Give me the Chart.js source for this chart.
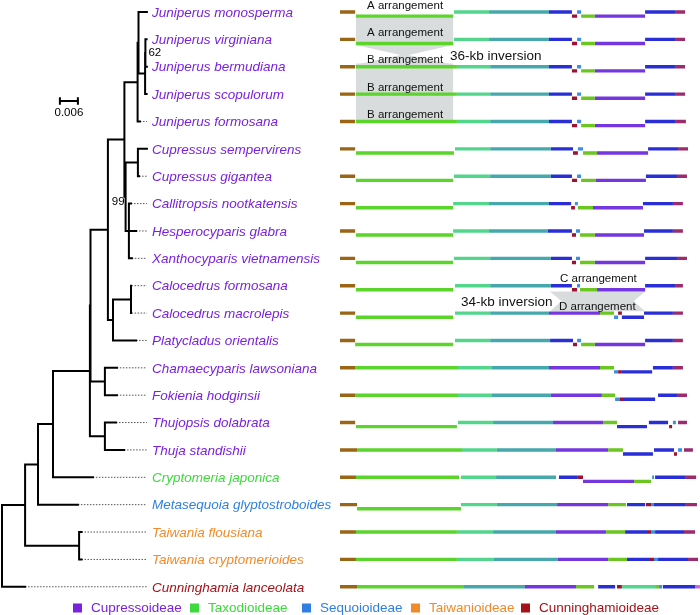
<!DOCTYPE html>
<html>
<head>
<meta charset="utf-8">
<script src="https://cdn.jsdelivr.net/npm/chart.js@4.4.0/dist/chart.umd.min.js"></script>
<style>
  html, body { margin: 0; padding: 0; background: #fff; }
  #wrap { width: 700px; height: 615px; position: relative; }
</style>
</head>
<body>
<div id="wrap"><canvas id="treeChart"></canvas></div>
<script>
// tips, top to bottom
const species = [
  'Juniperus monosperma', 'Juniperus virginiana', 'Juniperus bermudiana', 'Juniperus scopulorum',
  'Juniperus formosana', 'Cupressus sempervirens', 'Cupressus gigantea', 'Callitropsis nootkatensis',
  'Hesperocyparis glabra', 'Xanthocyparis vietnamensis', 'Calocedrus formosana', 'Calocedrus macrolepis',
  'Platycladus orientalis', 'Chamaecyparis lawsoniana', 'Fokienia hodginsii', 'Thujopsis dolabrata',
  'Thuja standishii', 'Cryptomeria japonica', 'Metasequoia glyptostroboides', 'Taiwania flousiana',
  'Taiwania cryptomerioides', 'Cunninghamia lanceolata'
];
const subfamilyOf = [0,0,0,0,0,0,0,0,0,0,0,0,0,0,0,0,0,1,2,3,3,4];
const subfamilies = ['Cupressoideae', 'Taxodioideae', 'Sequoioideae', 'Taiwanioideae', 'Cunninghamioideae'];
const subfamilyColors = ['#7a22dc', '#3fd83f', '#2f7fe2', '#f08a2a', '#a51219'];

// tip branch ends (subst./site)
const tipDepth = [0.0483, 0.0482, 0.0483, 0.0482, 0.0460, 0.0483, 0.0457, 0.0430, 0.0447, 0.0433, 0.0432,
                  0.0432, 0.0447, 0.0383, 0.0383, 0.0380, 0.0407, 0.0303, 0.0253, 0.0265, 0.0265, 0.0077];
// internal nodes: numbers = tips, 'nX' = other nodes
const nodeKids = [
  [1, 2], ['n0', 3], [0, 'n1'], ['n2', 4], [5, 6], [7, 8, 9], ['n4', 'n5'], ['n3', 'n6'],
  [10, 11], ['n8', 12], ['n7', 'n9'], [13, 14], [15, 16], ['n10', 'n11'], ['n13', 'n12'],
  ['n14', 17], ['n15', 18], [19, 20], ['n16', 'n17'], ['n18', 21]
];
const nodeDepth = [0.0478, 0.0477, 0.0455, 0.0452, 0.0453, 0.0423, 0.0412, 0.0408, 0.0430, 0.0370,
                   0.0353, 0.0343, 0.0343, 0.0295, 0.0293, 0.0170, 0.0120, 0.0257, 0.0077, 0.0000];
const nodeSupport = ['62', '', '', '', '', '', '99', '', '', '', '', '', '', '', '', '', '', '', '', ''];
const alignDepth = 0.0483;
const scaleBarLen = 0.006;

// plastome blocks per tip: [start kb, end kb, block, strand(0 = upper, 1 = inverted)]
const genomeRows = [
  [[0,5.6,'B',0],[5.9,41.9,'G',1],[42.2,55.2,'M',0],[55.2,77.4,'T',0],[77.4,85.9,'D',0],[85.9,87.8,'R',1],[87.8,89.3,'L',0],[89.3,94.4,'Y',1],[94.4,113.0,'P',1],[113.0,124.1,'D',0],[124.1,127.8,'E',0]],
  [[0,5.6,'B',0],[5.9,41.9,'G',1],[42.2,55.2,'M',0],[55.2,77.4,'T',0],[77.4,85.9,'D',0],[85.9,87.8,'R',1],[87.8,89.3,'L',0],[89.3,94.4,'Y',1],[94.4,113.0,'P',1],[113.0,124.1,'D',0],[124.1,127.8,'E',0]],
  [[0,5.6,'B',0],[5.9,43.3,'G',0],[43.3,55.6,'M',0],[55.6,77.4,'T',0],[77.4,85.9,'D',0],[85.9,87.8,'R',1],[87.8,89.3,'L',0],[89.3,94.4,'Y',1],[94.4,113.0,'P',1],[113.0,124.1,'D',0],[124.1,127.8,'E',0]],
  [[0,5.6,'B',0],[5.9,43.3,'G',0],[43.3,55.6,'M',0],[55.6,77.4,'T',0],[77.4,85.9,'D',0],[85.9,87.8,'R',1],[87.8,89.3,'L',0],[89.3,94.4,'Y',1],[94.4,113.0,'P',1],[113.0,124.1,'D',0],[124.1,127.8,'E',0]],
  [[0,5.6,'B',0],[5.9,43.3,'G',0],[43.3,55.6,'M',0],[55.6,77.4,'T',0],[77.4,85.9,'D',0],[85.9,87.8,'R',1],[87.8,89.3,'L',0],[89.3,94.4,'Y',1],[94.4,113.0,'P',1],[113.0,124.1,'D',0],[124.1,128.1,'E',0]],
  [[0,5.6,'B',0],[5.9,42.2,'G',1],[42.6,55.6,'M',0],[55.6,78.1,'T',0],[78.1,86.3,'D',0],[86.3,88.1,'R',1],[88.1,90.0,'L',0],[90.0,95.2,'Y',1],[95.2,114.1,'P',1],[114.1,125.2,'D',0],[125.2,128.9,'E',0]],
  [[0,5.6,'B',0],[5.9,41.9,'G',1],[42.2,55.6,'M',0],[55.6,78.1,'T',0],[78.1,85.9,'D',0],[85.9,87.8,'R',1],[87.8,89.3,'L',0],[89.3,94.8,'Y',1],[94.8,113.3,'P',1],[113.3,124.8,'D',0],[124.8,128.5,'E',0]],
  [[0,5.6,'B',0],[5.9,41.9,'G',1],[41.9,55.2,'M',0],[55.2,77.4,'T',0],[77.4,85.6,'D',0],[85.6,87.0,'R',1],[87.0,88.1,'L',0],[88.1,93.7,'Y',1],[93.7,112.2,'P',1],[112.2,123.3,'D',0],[123.3,127.0,'E',0]],
  [[0,5.6,'B',0],[5.9,41.9,'G',1],[41.9,55.2,'M',0],[55.2,77.0,'T',0],[77.0,85.9,'D',0],[85.9,87.4,'R',1],[87.4,88.9,'L',0],[88.9,94.4,'Y',1],[94.4,112.6,'P',1],[112.6,123.3,'D',0],[123.3,127.0,'E',0]],
  [[0,5.6,'B',0],[5.9,41.9,'G',1],[42.2,55.6,'M',0],[55.6,78.1,'T',0],[78.1,85.9,'D',0],[85.9,87.4,'R',1],[87.4,88.9,'L',0],[88.9,94.4,'Y',1],[94.4,113.0,'P',1],[113.0,124.8,'D',0],[124.8,128.5,'E',0]],
  [[0,5.6,'B',0],[5.9,41.9,'G',1],[42.6,55.6,'M',0],[55.6,78.1,'T',0],[78.1,85.9,'D',0],[85.9,87.8,'R',1],[87.8,88.9,'L',0],[88.9,95.2,'Y',1],[95.2,113.0,'P',1],[113.0,124.1,'D',0],[124.1,127.0,'E',0]],
  [[0,5.6,'B',0],[5.9,41.9,'G',1],[42.6,55.6,'M',0],[55.6,77.4,'T',0],[77.4,96.3,'P',0],[96.3,101.5,'Y',0],[101.5,103.0,'L',1],[103.0,104.4,'R',0],[104.4,112.6,'D',1],[112.6,123.3,'D',0],[123.3,127.0,'E',0]],
  [[0,5.6,'B',0],[5.6,41.9,'G',1],[42.6,55.6,'M',0],[55.6,77.8,'T',0],[77.8,86.3,'D',0],[86.3,87.8,'R',1],[87.8,89.3,'L',0],[89.3,94.4,'Y',1],[94.4,113.0,'P',1],[113.0,123.3,'D',0],[123.3,127.0,'E',0]],
  [[0,5.6,'B',0],[5.6,43.7,'G',0],[43.7,56.3,'M',0],[56.3,77.4,'T',0],[77.4,96.3,'P',0],[96.3,101.5,'Y',0],[101.5,103.0,'L',1],[103.0,104.4,'R',1],[104.4,115.6,'D',1],[115.9,123.3,'D',0],[123.3,127.0,'E',0]],
  [[0,5.6,'B',0],[5.6,43.7,'G',0],[43.7,56.3,'M',0],[56.3,78.1,'T',0],[78.1,97.0,'P',0],[97.0,101.9,'Y',0],[101.9,103.7,'L',1],[103.7,104.8,'R',1],[104.8,116.7,'D',1],[117.8,124.8,'D',0],[124.8,128.5,'E',0]],
  [[0,5.6,'B',0],[5.9,43.3,'G',1],[43.7,56.7,'M',0],[56.7,78.9,'T',0],[78.9,97.4,'P',0],[97.4,102.6,'Y',0],[102.6,113.7,'D',1],[114.4,121.5,'D',0],[121.9,123.0,'R',1],[123.3,124.4,'L',0],[125.2,128.5,'E',0]],
  [[0,6.3,'B',0],[6.3,45.2,'G',0],[45.2,58.1,'M',0],[58.1,80.0,'T',0],[80.0,99.3,'P',0],[99.3,104.8,'Y',0],[104.8,115.9,'D',1],[116.3,123.7,'D',0],[123.7,124.8,'R',1],[125.2,126.7,'L',0],[127.4,130.7,'E',0]],
  [[0,5.9,'B',0],[5.9,44.1,'G',0],[44.8,57.8,'M',0],[57.8,80.0,'T',0],[81.1,88.1,'D',0],[88.1,90.0,'R',0],[90.0,108.9,'P',1],[108.9,115.2,'Y',1],[115.6,116.3,'L',0],[116.7,127.8,'D',0],[127.8,131.9,'E',0]],
  [[0,6.3,'B',0],[6.3,44.8,'G',1],[44.8,58.1,'M',0],[58.1,80.4,'T',0],[80.4,99.3,'P',0],[99.3,105.9,'Y',0],[106.3,113.0,'D',0],[113.3,115.2,'R',0],[115.2,116.3,'L',0],[116.3,128.1,'D',0],[128.1,132.2,'E',0]],
  [[0,5.9,'B',0],[5.9,43.3,'G',0],[43.3,56.7,'M',0],[56.7,80.0,'T',0],[80.0,98.5,'P',0],[98.5,105.6,'Y',0],[105.6,113.7,'D',0],[113.7,115.2,'R',0],[115.2,116.7,'L',0],[116.7,127.4,'D',0],[127.4,131.5,'E',0]],
  [[0,5.9,'B',0],[5.9,43.3,'G',0],[43.3,57.0,'M',0],[57.0,80.7,'T',0],[80.7,99.3,'P',0],[99.3,106.3,'Y',0],[106.3,114.8,'D',0],[114.8,116.3,'R',0],[116.3,117.8,'L',0],[117.8,128.9,'D',0],[128.9,132.6,'E',0]],
  [[0,6.3,'B',0],[6.3,45.6,'G',0],[45.6,68.5,'T',0],[68.5,87.4,'P',0],[87.4,94.1,'Y',0],[95.6,101.9,'D',0],[102.6,104.4,'R',0],[104.4,116.7,'M',0],[116.7,118.1,'Y',0],[118.1,119.3,'L',0],[119.6,131.5,'D',0],[131.5,133.3,'K',0]]
];

// shared arrangement bands and inversions (rows, kb)
const bandRowTop = [0, 2];
const bandRowBottom = [1, 4];
const bandFrom = [5.9, 5.9];
const bandTo = [41.9, 41.9];
const invRowTop = [1, 10];
const invRowBottom = [2, 11];
const invFrom = [5.9, 77.8];
const invTo = [41.9, 113.0];
const invLabels = ['36-kb inversion', '34-kb inversion'];
const arrLabels = [['A arrangement', 0, 10.0], ['A arrangement', 1, 10.0], ['B arrangement', 2, 10.0],
                   ['B arrangement', 3, 10.0], ['B arrangement', 4, 10.0],
                   ['C arrangement', 10, 81.5], ['D arrangement', 11, 81.1]];

// styles
const BLOCK_COLORS = { B: '#9b6516', G: '#5bd42b', M: '#52d68c', T: '#46a8ac', D: '#2a2ed6', R: '#9c1232',
                       L: '#3a8fe4', Y: '#6cc620', P: '#7437df', E: '#9b2b6d', K: '#d263c9' };
const STRAND_OFFSET = [0.0, 0.15];
const bandPadTop = [0.2, -0.12];
const bandPadBottom = [0.1, -0.02];
const invWaist = [0.46, 0.12];
const invTextPos = [[40.7, 1.62], [44.8, 10.62]];
const SHADE = '#d9dcdc';

function yOf(ref) {
  if (typeof ref === 'number') return ref;
  const kids = nodeKids[+ref.slice(1)].map(yOf);
  return (Math.min(...kids) + Math.max(...kids)) / 2;
}
function depthOf(ref) {
  return typeof ref === 'number' ? tipDepth[ref] : nodeDepth[+ref.slice(1)];
}

const datasets = [];
const base = { showLine: true, pointRadius: 0, fill: false, spanGaps: false };

// grey bands
bandRowTop.forEach((r0, i) => {
  const r1 = bandRowBottom[i];
  const t = r0 + bandPadTop[i], b = r1 + bandPadBottom[i];
  datasets.push({ ...base, xAxisID: 'xg', yAxisID: 'y', fill: 'shape', backgroundColor: SHADE,
    borderWidth: 0, borderColor: 'rgba(0,0,0,0)', order: 30,
    data: [{x: bandFrom[i], y: t}, {x: bandTo[i], y: t}, {x: bandTo[i], y: b}, {x: bandFrom[i], y: b}] });
});
// inversion hourglasses
invRowTop.forEach((r0, i) => {
  const t = r0 + 0.21, b = invRowBottom[i] - 0.07, m = (t + b) / 2;
  const w = (invTo[i] - invFrom[i]) * invWaist[i];
  datasets.push({ ...base, xAxisID: 'xg', yAxisID: 'y', fill: 'shape', backgroundColor: SHADE,
    borderWidth: 0, borderColor: 'rgba(0,0,0,0)', order: 30,
    data: [{x: invFrom[i], y: t}, {x: invTo[i], y: t}, {x: invTo[i] - w, y: m},
           {x: invTo[i], y: b}, {x: invFrom[i], y: b}, {x: invFrom[i] + w, y: m}] });
});

// genome blocks, one dataset per block colour
Object.keys(BLOCK_COLORS).forEach(key => {
  const pts = [];
  genomeRows.forEach((blocks, r) => blocks.forEach(([s, e, k, st]) => {
    if (k !== key) return;
    const y = r + STRAND_OFFSET[st];
    pts.push({x: s, y}, {x: e, y}, {x: e, y: null});
  }));
  datasets.push({ ...base, xAxisID: 'xg', yAxisID: 'y', data: pts, borderColor: BLOCK_COLORS[key],
    borderWidth: 3.4, borderCapStyle: 'butt', order: 10 });
});

// tree
const solid = [], dotted = [];
nodeKids.forEach((kids, i) => {
  const d = nodeDepth[i];
  const ys = kids.map(yOf);
  solid.push({x: d, y: Math.min(...ys)}, {x: d, y: Math.max(...ys)}, {x: d, y: null});
  kids.forEach((k, j) => solid.push({x: d, y: ys[j]}, {x: depthOf(k), y: ys[j]}, {x: d, y: null}));
});
tipDepth.forEach((d, i) => {
  if (d < alignDepth - 0.0004) dotted.push({x: d, y: i}, {x: alignDepth, y: i}, {x: d, y: null});
});
// scale bar
const sbX = 0.0193, sbY = 3.25;
solid.push({x: sbX, y: sbY}, {x: sbX + scaleBarLen, y: sbY}, {x: sbX, y: null},
           {x: sbX, y: sbY - 0.1}, {x: sbX, y: sbY + 0.1}, {x: sbX, y: null},
           {x: sbX + scaleBarLen, y: sbY - 0.1}, {x: sbX + scaleBarLen, y: sbY + 0.1}, {x: sbX, y: null});

datasets.push({ ...base, xAxisID: 'xt', yAxisID: 'y', data: dotted, borderColor: '#555',
  borderWidth: 1, borderDash: [1.5, 1.5], order: 8 });
datasets.push({ ...base, xAxisID: 'xt', yAxisID: 'y', data: solid, borderColor: '#000',
  borderWidth: 2, borderCapStyle: 'square', order: 7 });

const textPlugin = {
  id: 'texts',
  afterDatasetsDraw(chart) {
    const { ctx, scales: { xt, xg, y } } = chart;
    ctx.save();
    ctx.textBaseline = 'middle';

    // tip names
    ctx.textAlign = 'left';
    ctx.font = 'italic 13.5px "Liberation Sans", Arial, sans-serif';
    species.forEach((name, i) => {
      ctx.fillStyle = subfamilyColors[subfamilyOf[i]];
      ctx.fillText(name, xt.getPixelForValue(alignDepth) + 5, y.getPixelForValue(i) + 1);
    });

    // support values
    ctx.fillStyle = '#000';
    ctx.font = '11.5px "Liberation Sans", Arial, sans-serif';
    nodeSupport.forEach((s, i) => {
      if (!s) return;
      const px = xt.getPixelForValue(nodeDepth[i]);
      const py = y.getPixelForValue(yOf('n' + i));
      if (i === 0) { ctx.textAlign = 'left'; ctx.fillText(s, px + 3, py); }
      else { ctx.textAlign = 'right'; ctx.fillText(s, px - 1, py + 5); }
    });

    // scale bar label
    ctx.textAlign = 'center';
    ctx.font = '11.5px "Liberation Sans", Arial, sans-serif';
    ctx.fillText(String(scaleBarLen), xt.getPixelForValue(sbX + scaleBarLen / 2), y.getPixelForValue(sbY) + 12);

    // arrangement labels
    ctx.textAlign = 'left';
    ctx.fillStyle = '#111';
    ctx.font = '11.5px "Liberation Sans", Arial, sans-serif';
    arrLabels.forEach(([t, r, kb]) => ctx.fillText(t, xg.getPixelForValue(kb), y.getPixelForValue(r) - 6.5));
    ctx.font = '13.5px "Liberation Sans", Arial, sans-serif';
    invLabels.forEach((t, i) => ctx.fillText(t, xg.getPixelForValue(invTextPos[i][0]), y.getPixelForValue(invTextPos[i][1])));

    // legend
    const legX = [73, 190, 302, 411, 521], legY = 608;
    ctx.font = '13.5px "Liberation Sans", Arial, sans-serif';
    subfamilies.forEach((s, i) => {
      ctx.fillStyle = subfamilyColors[i];
      ctx.fillRect(legX[i], legY - 4.5, 9, 9);
      ctx.fillText(s, legX[i] + 18, legY);
    });
    ctx.restore();
  }
};

const yMin = -0.4384, yMax = 22.031;
new Chart(document.getElementById('treeChart'), {
  type: 'scatter',
  data: { datasets },
  options: {
    responsive: true,
    maintainAspectRatio: false,
    animation: false,
    events: [],
    layout: { padding: 0 },
    plugins: { legend: { display: false }, tooltip: { enabled: false } },
    scales: {
      xt: { type: 'linear', display: false, min: -0.000667, max: 0.232667 },
      xg: { type: 'linear', display: false, min: -125.93, max: 133.33 },
      y: { type: 'linear', display: false, reverse: true, min: yMin, max: yMax }
    }
  },
  plugins: [textPlugin]
});
</script>
</body>
</html>
